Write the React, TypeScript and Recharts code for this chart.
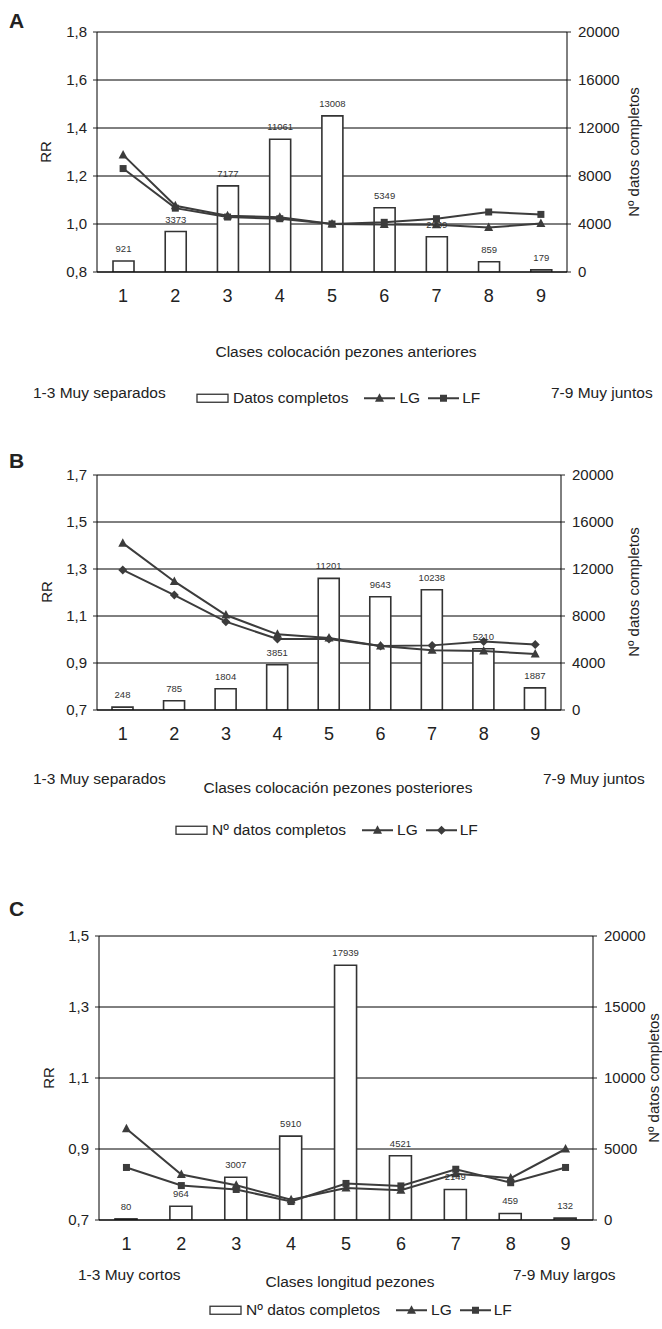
import React from 'react';
import { ComposedChart, Bar, Line, XAxis, YAxis, CartesianGrid, LabelList } from 'recharts';

const FONT = '"Liberation Sans", Arial, Helvetica, sans-serif';
const INK = '#222';
const LINE = '#3c3c3c';

const classes = ['1', '2', '3', '4', '5', '6', '7', '8', '9'];
const edgeTicks = [0, 1, 2, 3, 4, 5, 6, 7, 8, 9];

// A - colocación pezones anteriores
const datosA = [921, 3373, 7177, 11061, 13008, 5349, 2939, 859, 179];
const lgA = [1.288, 1.076, 1.034, 1.028, 1.0, 0.998, 0.997, 0.985, 1.002];
const lfA = [1.231, 1.066, 1.029, 1.022, 1.0, 1.007, 1.022, 1.05, 1.04];
const rrTicksA = [0.8, 1.0, 1.2, 1.4, 1.6, 1.8];
const nTicksA = [0, 4000, 8000, 12000, 16000, 20000];

// B - colocación pezones posteriores
const datosB = [248, 785, 1804, 3851, 11201, 9643, 10238, 5210, 1887];
const lgB = [1.41, 1.247, 1.104, 1.022, 1.006, 0.972, 0.954, 0.951, 0.938];
const lfB = [1.296, 1.189, 1.076, 1.002, 1.002, 0.972, 0.975, 0.991, 0.979];
const rrTicksB = [0.7, 0.9, 1.1, 1.3, 1.5, 1.7];
const nTicksB = [0, 4000, 8000, 12000, 16000, 20000];

// C - longitud pezones
const datosC = [80, 964, 3007, 5910, 17939, 4521, 2149, 459, 132];
const lgC = [0.957, 0.828, 0.798, 0.757, 0.79, 0.784, 0.83, 0.818, 0.9];
const lfC = [0.848, 0.797, 0.786, 0.752, 0.803, 0.796, 0.843, 0.805, 0.848];
const rrTicksC = [0.7, 0.9, 1.1, 1.3, 1.5];
const nTicksC = [0, 5000, 10000, 15000, 20000];

const rows = (n: number[], lg: number[], lf: number[]) =>
  classes.map((c, i) => ({ clase: c, n: n[i], lg: lg[i], lf: lf[i] }));

const comma = (v: number) => v.toFixed(1).replace('.', ',');

type Shape = 'triangle' | 'square' | 'diamond';

function marker(shape: Shape, cx: number, cy: number, key?: any) {
  if (shape === 'triangle')
    return <path key={key} d={`M${cx},${cy - 5}L${cx + 4.5},${cy + 3.5}L${cx - 4.5},${cy + 3.5}Z`} fill={LINE} />;
  if (shape === 'square')
    return <rect key={key} x={cx - 3.5} y={cy - 3.5} width={7} height={7} fill={LINE} />;
  return <path key={key} d={`M${cx},${cy - 4.5}L${cx + 4.5},${cy}L${cx},${cy + 4.5}L${cx - 4.5},${cy}Z`} fill={LINE} />;
}

const dotFor = (shape: Shape) => (p: any) => {
  if (p.cx == null || p.cy == null) return <g key={p.index} />;
  return marker(shape, p.cx, p.cy, p.index);
};

interface PanelProps {
  top: number;
  height: number;
  marginTop: number;
  leftW: number;
  rightW: number;
  barSize: number;
  data: any[];
  rrTicks: number[];
  nTicks: number[];
  lfShape: Shape;
}

function Panel({ top, height, marginTop, leftW, rightW, barSize, data, rrTicks, nTicks, lfShape }: PanelProps) {
  const tickStyle = { fill: INK, fontSize: 15, fontFamily: FONT };
  return (
    <div style={{ position: 'absolute', left: 0, top }}>
      <ComposedChart
        width={662}
        height={height}
        data={data}
        margin={{ top: marginTop, right: 0, bottom: 0, left: 0 }}
      >
        <CartesianGrid yAxisId="rr" vertical={false} stroke="#000" strokeWidth={1} />
        <XAxis
          xAxisId="edges"
          type="number"
          domain={[0, 9]}
          ticks={edgeTicks}
          allowDataOverflow
          tick={false}
          axisLine={false}
          tickLine={{ stroke: INK }}
          tickSize={5}
          height={0}
        />
        <XAxis
          dataKey="clase"
          tickLine={false}
          axisLine={{ stroke: '#000' }}
          tickSize={0}
          tickMargin={17}
          height={40}
          tick={{ fill: INK, fontSize: 18, fontFamily: FONT }}
        />
        <YAxis
          yAxisId="rr"
          width={leftW}
          domain={[rrTicks[0], rrTicks[rrTicks.length - 1]]}
          ticks={rrTicks}
          allowDataOverflow
          tickFormatter={comma}
          axisLine={{ stroke: '#000' }}
          tickLine={{ stroke: INK }}
          tickSize={4}
          tickMargin={6}
          tick={tickStyle}
        />
        <YAxis
          yAxisId="n"
          orientation="right"
          width={rightW}
          domain={[0, 20000]}
          ticks={nTicks}
          allowDataOverflow
          axisLine={{ stroke: '#000' }}
          tickLine={{ stroke: INK }}
          tickSize={4}
          tickMargin={7}
          tick={tickStyle}
        />
        <Bar yAxisId="n" dataKey="n" barSize={barSize} fill="#fff" stroke="#333" strokeWidth={1.6} isAnimationActive={false}>
          <LabelList dataKey="n" position="top" offset={9} fill="#333" fontSize={9.5} fontFamily={FONT} />
        </Bar>
        <Line
          yAxisId="rr"
          dataKey="lg"
          type="linear"
          stroke={LINE}
          strokeWidth={2}
          dot={dotFor('triangle')}
          activeDot={false}
          isAnimationActive={false}
        />
        <Line
          yAxisId="rr"
          dataKey="lf"
          type="linear"
          stroke={LINE}
          strokeWidth={2}
          dot={dotFor(lfShape)}
          activeDot={false}
          isAnimationActive={false}
        />
      </ComposedChart>
    </div>
  );
}

function Txt({ x, y, size = 15.5, anchor = 'start', bold = false, rotate = false, children }: any) {
  const tx = anchor === 'middle' ? '-50%' : '0';
  return (
    <div
      style={{
        position: 'absolute',
        left: x,
        top: y,
        fontFamily: FONT,
        fontSize: size,
        fontWeight: bold ? 'bold' : 'normal',
        lineHeight: 1,
        color: INK,
        whiteSpace: 'nowrap',
        transform: rotate ? 'translate(-50%, -50%) rotate(-90deg)' : `translate(${tx}, -50%)`,
      }}
    >
      {children}
    </div>
  );
}

function LegendRow({ x, y, label, lfShape }: { x: number; y: number; label: string; lfShape: Shape }) {
  const sym = (shape: Shape) => (
    <svg width={31} height={12} style={{ display: 'block' }}>
      <line x1={0} y1={6} x2={31} y2={6} stroke={LINE} strokeWidth={2} />
      {marker(shape, 15.5, 6)}
    </svg>
  );
  return (
    <div
      style={{
        position: 'absolute',
        left: x,
        top: y,
        transform: 'translateY(-50%)',
        display: 'flex',
        alignItems: 'center',
        fontFamily: FONT,
        fontSize: 15.5,
        lineHeight: 1,
        color: INK,
        whiteSpace: 'nowrap',
      }}
    >
      <svg width={33} height={12} style={{ display: 'block' }}>
        <rect x={1} y={2} width={31} height={8} fill="#fff" stroke="#333" strokeWidth={1.3} />
      </svg>
      <span style={{ marginLeft: 4, marginRight: 16 }}>{label}</span>
      {sym('triangle')}
      <span style={{ marginLeft: 4, marginRight: 8 }}>LG</span>
      {sym(lfShape)}
      <span style={{ marginLeft: 3 }}>LF</span>
    </div>
  );
}

export default function App() {
  return (
    <div style={{ position: 'absolute', left: 0, top: 0, width: 662, height: 1329, background: '#fff' }}>
      {/* A */}
      <Panel top={0} height={312} marginTop={32} leftW={97} rightW={95} barSize={21}
        data={rows(datosA, lgA, lfA)} rrTicks={rrTicksA} nTicks={nTicksA} lfShape="square" />
      <Txt x={9} y={20} size={21} bold>A</Txt>
      <Txt x={45} y={152} size={15} rotate>RR</Txt>
      <Txt x={633} y={152} size={15} rotate>Nº datos completos</Txt>
      <Txt x={346} y={352} anchor="middle">Clases colocación pezones anteriores</Txt>
      <Txt x={33} y={393}>1-3 Muy separados</Txt>
      <Txt x={551} y={393}>7-9 Muy juntos</Txt>
      <LegendRow x={196} y={398} label="Datos completos" lfShape="square" />

      {/* B */}
      <Panel top={440} height={310} marginTop={35} leftW={97} rightW={101} barSize={21}
        data={rows(datosB, lgB, lfB)} rrTicks={rrTicksB} nTicks={nTicksB} lfShape="diamond" />
      <Txt x={9} y={460} size={21} bold>B</Txt>
      <Txt x={46} y={592} size={15} rotate>RR</Txt>
      <Txt x={633} y={592} size={15} rotate>Nº datos completos</Txt>
      <Txt x={33} y={779}>1-3 Muy separados</Txt>
      <Txt x={338} y={788} anchor="middle">Clases colocación pezones posteriores</Txt>
      <Txt x={543} y={779}>7-9 Muy juntos</Txt>
      <LegendRow x={175} y={830} label="Nº datos completos" lfShape="diamond" />

      {/* C */}
      <Panel top={900} height={360} marginTop={36} leftW={99} rightW={69} barSize={22}
        data={rows(datosC, lgC, lfC)} rrTicks={rrTicksC} nTicks={nTicksC} lfShape="square" />
      <Txt x={9} y={908} size={21} bold>C</Txt>
      <Txt x={48} y={1078} size={15} rotate>RR</Txt>
      <Txt x={653} y={1078} size={15} rotate>Nº datos completos</Txt>
      <Txt x={78} y={1275}>1-3 Muy cortos</Txt>
      <Txt x={350} y={1282} anchor="middle">Clases longitud pezones</Txt>
      <Txt x={513} y={1275}>7-9 Muy largos</Txt>
      <LegendRow x={209} y={1310} label="Nº datos completos" lfShape="square" />
    </div>
  );
}
